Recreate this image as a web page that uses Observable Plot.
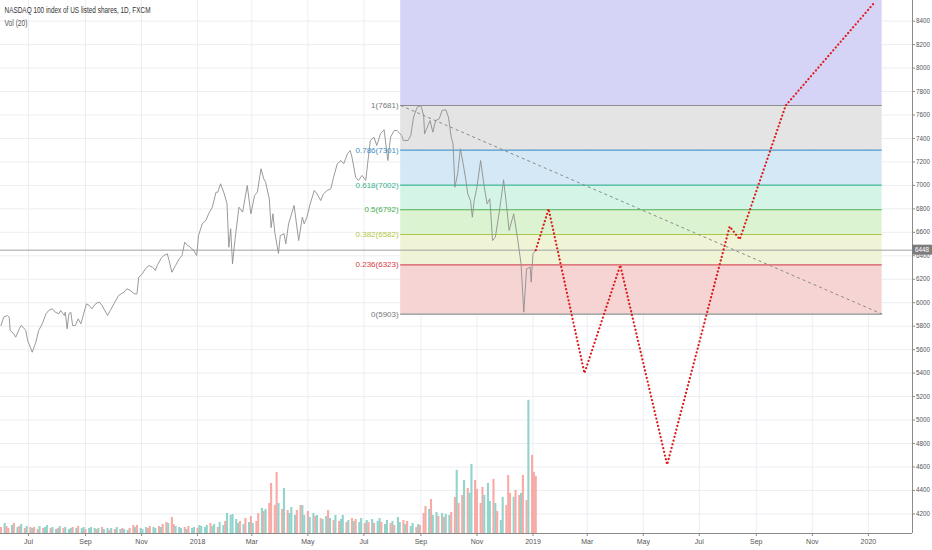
<!DOCTYPE html>
<html><head><meta charset="utf-8">
<script src="https://cdn.jsdelivr.net/npm/d3@7"></script>
<script src="https://cdn.jsdelivr.net/npm/@observablehq/plot@0.6"></script>
<style>
html,body{margin:0;padding:0;background:#fff;}
#chart{width:932px;height:550px;overflow:hidden;}
</style></head><body><div id="chart"></div>
<script>
const title = "NASDAQ 100 index of US listed shares, 1D, FXCM";
const subtitle = "Vol (20)";

const priceDates = [
"2017-06-01","2017-06-04","2017-06-08","2017-06-10","2017-06-11","2017-06-15","2017-06-17","2017-06-21","2017-06-23","2017-06-25",
"2017-06-28","2017-06-30","2017-07-03","2017-07-05","2017-07-09","2017-07-12","2017-07-16","2017-07-20","2017-07-23","2017-07-27",
"2017-07-30","2017-08-03","2017-08-05","2017-08-09","2017-08-10","2017-08-12","2017-08-14","2017-08-16","2017-08-18","2017-08-21",
"2017-08-24","2017-08-27","2017-08-30","2017-09-02","2017-09-05","2017-09-08","2017-09-12","2017-09-16","2017-09-19","2017-09-25",
"2017-09-28","2017-10-02","2017-10-07","2017-10-13","2017-10-16","2017-10-20","2017-10-24","2017-10-27","2017-10-29","2017-11-02",
"2017-11-05","2017-11-09","2017-11-13","2017-11-16","2017-11-18","2017-11-22","2017-11-25","2017-11-29","2017-12-01","2017-12-04",
"2017-12-08","2017-12-12","2017-12-15","2017-12-18","2017-12-21","2017-12-24","2017-12-28","2017-12-31","2018-01-02","2018-01-06",
"2018-01-10","2018-01-13","2018-01-17","2018-01-21","2018-01-23","2018-01-26","2018-01-30","2018-02-02","2018-02-04","2018-02-06",
"2018-02-08","2018-02-11","2018-02-15","2018-02-19","2018-02-24","2018-02-28","2018-03-04","2018-03-07","2018-03-11","2018-03-14",
"2018-03-16","2018-03-20","2018-03-22","2018-03-24","2018-03-26","2018-03-30","2018-04-01","2018-04-05","2018-04-07","2018-04-10",
"2018-04-16","2018-04-21","2018-04-25","2018-04-27","2018-04-30","2018-05-03","2018-05-08","2018-05-11","2018-05-15","2018-05-18",
"2018-05-22","2018-05-26","2018-05-29","2018-06-02","2018-06-06","2018-06-09","2018-06-13","2018-06-16","2018-06-18","2018-06-22",
"2018-06-25","2018-06-29","2018-07-03","2018-07-05","2018-07-08","2018-07-12","2018-07-15","2018-07-19","2018-07-23","2018-07-27",
"2018-07-30","2018-08-03","2018-08-06","2018-08-11","2018-08-13","2018-08-18","2018-08-21","2018-08-24","2018-08-28","2018-09-01",
"2018-09-04","2018-09-05","2018-09-08","2018-09-11","2018-09-14","2018-09-17","2018-09-21","2018-09-24","2018-09-28","2018-10-01",
"2018-10-04","2018-10-06","2018-10-08","2018-10-11","2018-10-14","2018-10-17","2018-10-20","2018-10-22","2018-10-25","2018-10-27",
"2018-10-29","2018-11-01","2018-11-05","2018-11-09","2018-11-12","2018-11-15","2018-11-18","2018-11-21","2018-11-25","2018-11-29",
"2018-11-30","2018-12-03","2018-12-06","2018-12-11","2018-12-15","2018-12-19","2018-12-22","2018-12-25","2018-12-29","2018-12-30",
"2019-01-01","2019-01-04"];
const priceValues = [
5806,5877,5891,5877,5763,5735,5706,5778,5806,5792,
5763,5678,5621,5578,5664,5763,5820,5906,5934,5948,
5920,5906,5934,5891,5920,5778,5906,5920,5806,5806,
5863,5820,5906,5991,5977,5948,5991,6006,5977,5891,
5934,5991,6062,6090,6119,6104,6076,6076,6218,6247,
6289,6317,6303,6275,6317,6374,6402,6417,6360,6260,
6317,6374,6402,6516,6488,6473,6445,6402,6573,6672,
6701,6758,6814,6942,6942,7014,6928,6843,6473,6630,
6332,6558,6814,6772,6999,6758,6914,6942,7142,7056,
7027,6886,6640,6758,6600,6420,6573,6588,6502,6672,
6829,6530,6729,6672,6729,6829,6957,6928,6871,6928,
6957,6971,7070,7184,7212,7184,7269,7297,7241,7070,
7042,7085,7042,7184,7383,7411,7340,7440,7474,7212,
7411,7468,7468,7426,7383,7383,7426,7582,7667,7681,
7596,7440,7497,7553,7454,7553,7568,7639,7645,7582,
7411,7354,6985,7099,7312,7184,7042,6928,6871,6729,
6871,6985,7212,6985,6843,6886,6530,6558,6758,6985,
7048,6843,6616,6758,6558,6332,5920,6289,6303,6175,
6417,6448];
const lastPrice = 6448;

const projDates = ["2019-01-04","2019-01-18","2019-02-26","2019-04-06","2019-05-27","2019-08-03","2019-08-14","2019-10-03","2020-01-07"];
const projValues = [6448,6800,5400,6320,4620,6650,6540,7681,8553];

const fibStart = "2018-08-10";
const fibEnd = "2020-01-16";
const fibRatios = [0, 0.236, 0.382, 0.5, 0.618, 0.786, 1, 1.618];
const fibPrices = [5903, 6323, 6582, 6792, 7002, 7301, 7681, 8780];
const fibLineColors = ["#8c8c8c","#d9575c","#a9c84a","#4caf50","#3fb597","#4f96cc","#8c8c8c","#7b6fe0"];
const fibLabelColors = ["#777777","#d9383f","#b4c83e","#45ad4c","#33b08a","#3a8fc3","#777777","#6b60d8"];
const fibFillColors = ["#f6d4d4","#f0f4d6","#dcf3d1","#d4f4e8","#d5e8f6","#e4e4e4","#d6d4f6"];

const volStart = "2017-06-01";
const volEnd = "2019-01-05";
const volValues = [
6,10,7,5,8,10,6,7,9,5,
7,6,5,6,4,7,5,6,8,5,
6,4,5,7,5,6,4,5,6,5,
7,5,6,4,5,6,5,4,5,6,
4,5,3,5,4,6,4,5,4,3,
5,8,6,8,5,4,6,5,7,6,
5,7,6,9,11,10,16,9,7,6,
5,6,4,7,5,6,5,8,7,6,
8,10,7,9,6,11,8,12,20,18,
19,14,10,12,9,15,11,17,10,12,
20,25,22,24,30,50,28,61,30,24,
45,23,20,26,18,23,28,28,18,22,
16,20,17,18,15,14,17,23,15,13,
18,12,14,18,11,13,15,12,14,11,
15,10,13,11,14,10,12,15,11,9,
13,10,12,8,16,11,13,9,12,7,
10,6,9,8,20,27,24,34,18,21,
17,20,16,19,18,21,36,63,30,38,
53,45,40,69,53,44,30,46,38,50,
32,54,30,22,13,36,28,58,40,36,
43,38,40,58,33,133,78,61,57];
const volDirs =
"rgrrgrgrgr"+"grgrrgrggr"+"ggrgrgggrg"+"rggrgggrgr"+"ggrgrggrgg"+
"rrgrgggrrg"+"grgrrgrrgg"+"grgrggrggg"+"grggrggrgg"+"gggrgrgrgr"+
"rgrgrrrrgr"+"grgggrrggr"+"ggrgrggrgr"+"grggrgrgrg"+"grgrgrggrg"+
"grgrggrgrg"+"grgrrrgrgg"+"rgrggrrgrr"+"grggrrrrgg"+"grgrggrrrg"+
"rrgrrgrrr";
const volUpColor = "#92d3cb";
const volDownColor = "#f7aaa6";

const xTicks = ["2017-07-01","2017-09-01","2017-11-01","2018-01-01","2018-03-01","2018-05-01","2018-07-01","2018-09-01","2018-11-01",
"2019-01-01","2019-03-01","2019-05-01","2019-07-01","2019-09-01","2019-11-01","2020-01-01"];
const yTicks = [4200,4400,4600,4800,5000,5200,5400,5600,5800,6000,6200,6400,6600,6800,7000,7200,7400,7600,7800,8000,8200,8400];

const xDomain = [new Date("2017-05-31T12:00:00Z"), new Date("2020-02-18T00:00:00Z")];
const yDomain = [4033, 8576];

// tables
const price = priceDates.map((d, i) => ({date: new Date(d), value: priceValues[i]}));
const proj = projDates.map((d, i) => ({date: new Date(d), value: projValues[i]}));
const fibStartD = new Date(fibStart), fibEndD = new Date(fibEnd);
const fibLevels = fibRatios.slice(0, 7).map((r, i) => ({ratio: r, price: fibPrices[i], stroke: fibLineColors[i], label: fibLabelColors[i]}));
const fibBands = fibFillColors.map((c, i) => ({lo: fibPrices[i], hi: fibPrices[i + 1], fill: c}));
const weekdays = d3.utcDays(new Date(volStart), new Date(volEnd)).filter(d => d.getUTCDay() % 6 !== 0);
const vol = volValues.map((v, i) => ({date: weekdays[2 * i], v, up: volDirs[i] === "g"}));
const volToPrice = d3.scaleLinear([0, d3.max(volValues)], [yDomain[0], yDomain[0] + 0.25 * (yDomain[1] - yDomain[0])]);
const tickDates = xTicks.map(d => new Date(d));
const fmtTick = d => d.getUTCMonth() === 0 ? d3.utcFormat("%Y")(d) : d3.utcFormat("%b")(d);

const font = "'Liberation Sans Narrow','Liberation Sans',Arial,sans-serif";

const plot = Plot.plot({
  width: 932, height: 550,
  marginTop: 0, marginBottom: 17, marginLeft: 0, marginRight: 20,
  x: {type: "utc", domain: xDomain},
  y: {domain: yDomain},
  color: {type: "identity"},
  style: {fontFamily: font, fontSize: "7px", color: "#555", background: "#fff", overflow: "visible"},
  marks: [
    Plot.gridX(tickDates, {stroke: "#eceef3", strokeOpacity: 1}),
    Plot.gridY(yTicks, {stroke: "#eceef3", strokeOpacity: 1}),
    Plot.rect(fibBands, {x1: () => fibStartD, x2: () => fibEndD, y1: "lo", y2: "hi", fill: "fill", clip: true}),
    Plot.ruleY(fibLevels, {y: "price", x1: () => fibStartD, x2: () => fibEndD, stroke: "stroke", strokeWidth: 1.1}),
    Plot.ruleX(vol, {x: "date", y1: yDomain[0], y2: d => volToPrice(d.v), stroke: d => d.up ? volUpColor : volDownColor, strokeWidth: 2.1}),
    Plot.ruleY([lastPrice], {stroke: "#a0a0a0", strokeWidth: 1}),
    Plot.line(price, {x: "date", y: "value", stroke: "#8f8f8f", strokeWidth: 0.9}),
    Plot.link([{x1: fibStartD, y1: fibPrices[6], x2: fibEndD, y2: fibPrices[0]}], {x1: "x1", y1: "y1", x2: "x2", y2: "y2", stroke: "#8a8a8a", strokeWidth: 1, strokeDasharray: "3,3"}),
    Plot.line(proj, {x: "date", y: "value", stroke: "#dd1c1c", strokeWidth: 2.2, strokeDasharray: "0.1,3.7", strokeLinecap: "round"}),
    Plot.text(fibLevels, {x: () => fibStartD, y: "price", text: d => `${d.ratio}(${d.price})`, textAnchor: "end", dx: -2, fill: "label", fontSize: 8}),
    Plot.text([title], {frameAnchor: "top-left", dx: 4, dy: 10, lineAnchor: "middle", textAnchor: "start", fill: "#333", fontSize: 8.5}),
    Plot.text([subtitle], {frameAnchor: "top-left", dx: 4, dy: 23, lineAnchor: "middle", textAnchor: "start", fill: "#555", fontSize: 8.5}),
    Plot.ruleX([xDomain[1]], {stroke: "#8a8a8a"}),
    Plot.ruleY([yDomain[0]], {stroke: "#8a8a8a"}),
    Plot.axisY({anchor: "right", ticks: yTicks, tickSize: 2, tickPadding: 1.5, tickFormat: d => String(d), label: null, stroke: "#8a8a8a", fill: "#555", fontSize: 6.3}),
    Plot.axisX({ticks: tickDates, tickSize: 3, tickPadding: 3, tickFormat: fmtTick, label: null, stroke: "#8a8a8a", fill: "#555", fontSize: 7})
  ]
});

// fit title widths to the reference's condensed text
d3.select(plot).selectAll("text").filter(function () { return this.textContent === title; })
  .attr("textLength", 146).attr("lengthAdjust", "spacingAndGlyphs");
d3.select(plot).selectAll("text").filter(function () { return this.textContent === subtitle; })
  .attr("textLength", 23).attr("lengthAdjust", "spacingAndGlyphs");

// current price tag on the price axis
const ys = plot.scale("y");
const yy = ys.apply(lastPrice);
const tag = d3.select(plot).append("g");
tag.append("rect").attr("x", 932 - 20).attr("y", yy - 5).attr("width", 20).attr("height", 10).attr("fill", "#7d7d7d");
tag.append("text").attr("x", 932 - 10).attr("y", yy).attr("dy", "0.35em").attr("text-anchor", "middle")
  .attr("fill", "#fff").attr("font-size", 6.3).attr("font-family", font).text(String(lastPrice));

document.getElementById("chart").appendChild(plot);
</script>
</body></html>
